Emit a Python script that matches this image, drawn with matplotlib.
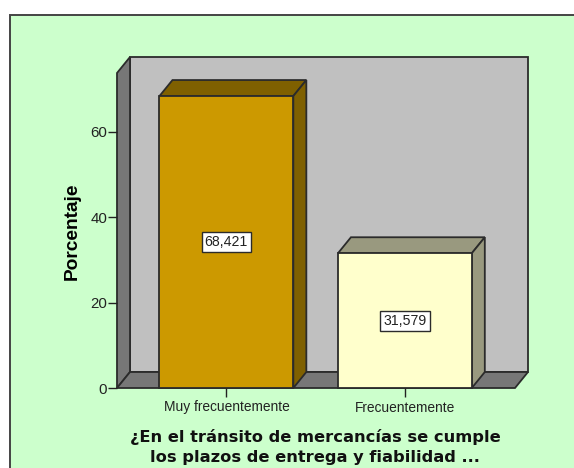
import matplotlib
matplotlib.use("Agg")
import matplotlib.pyplot as plt
from matplotlib.patches import Rectangle, Polygon

categories = ["Muy frecuentemente", "Frecuentemente"]
values = [68.421, 31.579]
value_labels = ["68,421", "31,579"]
yticks = [0, 20, 40, 60]
front_colors = ["#cc9900", "#ffffcc"]
top_colors = ["#7f6000", "#99997f"]

plt.rcParams['font.family'] = ['Liberation Sans', 'DejaVu Sans']
W, H = 574, 468
edge = "#2b2b2b"

fig = plt.figure(figsize=(W / 100, H / 100), dpi=100, facecolor="white")

# green panel behind everything, runs off the right and bottom of the picture
fig.patches.append(Rectangle((9.5 / W, -0.05), 1.0, 1.05 - 14.5 / H, transform=fig.transFigure,
                             facecolor="#ccffcc", edgecolor="#444444", linewidth=1.4, zorder=-1))

ax = fig.add_axes([117 / W, (H - 388) / H, 398 / W, 315 / H])
ax.set_xlim(-0.613, 1.617)
ax.set_ylim(0, 315 / 4.267)
ax.patch.set_visible(False)

dx = 13 / 178.5
dy = 16 / 4.267
x0, x1 = ax.get_xlim()
ytop = ax.get_ylim()[1]


def poly(pts, color):
    ax.add_patch(Polygon(pts, closed=True, facecolor=color, edgecolor=edge, linewidth=1.3, clip_on=False))


# back wall, side wall, floor
poly([(x0 + dx, dy), (x1 + dx, dy), (x1 + dx, ytop + dy), (x0 + dx, ytop + dy)], "#c0c0c0")
poly([(x0, 0), (x0 + dx, dy), (x0 + dx, ytop + dy), (x0, ytop)], "#777777")
poly([(x0, 0), (x1, 0), (x1 + dx, dy), (x0 + dx, dy)], "#777777")

width = 0.75
for i, v in enumerate(values):
    l = i - width / 2
    r = i + width / 2
    poly([(l, v), (r, v), (r + dx, v + dy), (l + dx, v + dy)], top_colors[i])
    poly([(r, 0), (r + dx, dy), (r + dx, v + dy), (r, v)], top_colors[i])
    poly([(l, 0), (r, 0), (r, v), (l, v)], front_colors[i])
    ax.text(i, v / 2, value_labels[i], ha="center", va="center", fontsize=10.2, color="#222222",
            bbox=dict(boxstyle="square,pad=0.22", facecolor="white", edgecolor=edge, linewidth=1))

ax.set_xticks(range(len(categories)))
ax.set_xticklabels(categories, fontsize=9.9, color="#333333")
ax.set_yticks(yticks)
ax.tick_params(axis="y", labelsize=10.8, length=6.5, width=1, pad=0.5, colors="#222222")
ax.tick_params(axis="x", length=6.5, width=1, pad=2.5, colors="#222222")
for s in ax.spines.values():
    s.set_visible(False)

ax.set_ylabel("Porcentaje", fontsize=13.8, fontweight="bold")
ax.yaxis.set_label_coords(-0.09, 0.498)
fig.text(315 / W, (H - 447) / H, "¿En el tránsito de mercancías se cumple\nlos plazos de entrega y fiabilidad ...",
         ha="center", va="center", fontsize=11.7, fontweight="bold", linespacing=1.35, color="#111111",
         family="DejaVu Sans")

fig.savefig("out.png", dpi=100)
